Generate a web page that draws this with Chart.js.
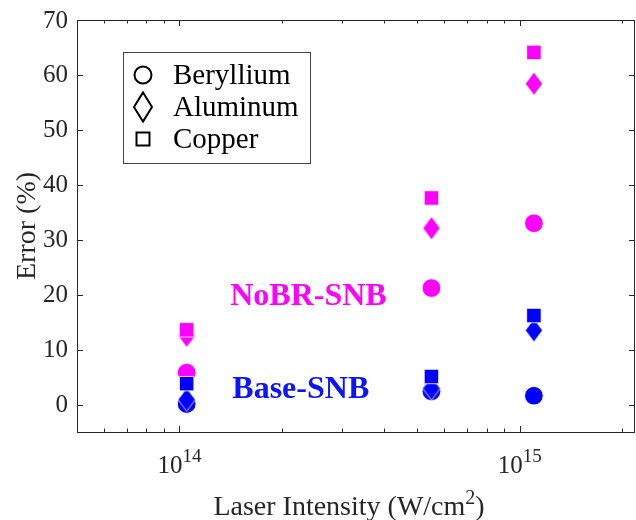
<!DOCTYPE html>
<html>
<head>
<meta charset="utf-8">
<script src="https://cdn.jsdelivr.net/npm/chart.js@4/dist/chart.umd.min.js"></script>
<style>
  html, body { margin: 0; padding: 0; background: #fff; }
  canvas { display: block; }
</style>
</head>
<body>
<canvas id="chart" width="636" height="520"></canvas>
<script>
// Laser intensities (W/cm^2) at which the error was evaluated
const intensities = [1.05e14, 5.5e14, 1.1e15];

// Error (%) without bremsstrahlung correction
const noBrBeryllium = [5.8, 21.2, 33.0];
const noBrAluminum  = [12.5, 32.1, 58.4];
const noBrCopper    = [13.6, 37.6, 64.1];

// Error (%) for the base SNB model
const baseBeryllium = [0.1, 2.4, 1.6];
const baseAluminum  = [0.9, 2.9, 13.5];
const baseCopper    = [3.8, 5.1, 16.2];

const materials = ['Beryllium', 'Aluminum', 'Copper'];
const yTicks = [0, 10, 20, 30, 40, 50, 60, 70];
const xMajorTicks = [1e14, 1e15];
const xMajorLabels = [['10', '14'], ['10', '15']];
const xMinorTicks = [6e13, 7e13, 8e13, 9e13, 2e14, 3e14, 4e14, 5e14, 6e14, 7e14, 8e14, 9e14, 2e15];

const MAGENTA = '#ff00ff';
const BLUE = '#0000ff';
const AXIS = '#262626';
const SERIF = '"Liberation Serif", "Times New Roman", serif';

// Tall diamond marker, drawn once per colour
function diamond(color, hw, hh, stroke, strokeWidth, fill) {
  const c = document.createElement('canvas');
  const pad = 2;
  c.width = Math.ceil(hw * 2 + pad * 2);
  c.height = Math.ceil(hh * 2 + pad * 2);
  const g = c.getContext('2d');
  const cx = c.width / 2, cy = c.height / 2;
  g.beginPath();
  g.moveTo(cx, cy - hh);
  g.lineTo(cx + hw, cy);
  g.lineTo(cx, cy + hh);
  g.lineTo(cx - hw, cy);
  g.closePath();
  if (fill) { g.fillStyle = color; g.fill(); }
  g.lineWidth = strokeWidth;
  g.strokeStyle = stroke;
  g.stroke();
  return c;
}

function pts(ys) {
  return intensities.map((x, i) => ({ x: x, y: ys[i] }));
}

function series(label, ys, color, shape, order) {
  const ds = {
    label: label,
    data: pts(ys),
    order: order,
    backgroundColor: color,
    borderColor: '#ffffff',
    borderWidth: 0.8,
    pointBorderWidth: 0.8,
    showLine: false
  };
  if (shape === 'circle') {
    ds.pointStyle = 'circle';
    ds.pointRadius = 9.3;
  } else if (shape === 'rect') {
    ds.pointStyle = 'rect';
    ds.pointRadius = 10.2;
  } else {
    ds.pointStyle = diamond(color, 8.6, 11.6, '#ffffff', 0.8, true);
    ds.pointRadius = 12;
  }
  ds.pointHoverRadius = ds.pointRadius;
  return ds;
}

// Axis box, inward ticks on all four sides, tick labels and axis titles
const axesPlugin = {
  id: 'matlabAxes',
  beforeDatasetsDraw(chart) {
    const { ctx, chartArea: a, scales: { x, y } } = chart;
    ctx.save();
    ctx.strokeStyle = AXIS;
    ctx.lineWidth = 1;
    ctx.strokeRect(Math.round(a.left) + 0.5, Math.round(a.top) + 0.5,
                   Math.round(a.right - a.left) - 1, Math.round(a.bottom - a.top));
    ctx.beginPath();
    const major = 6, minor = 3.5;
    yTicks.forEach(v => {
      const py = Math.round(y.getPixelForValue(v)) + 0.5;
      ctx.moveTo(a.left, py); ctx.lineTo(a.left + major, py);
      ctx.moveTo(a.right, py); ctx.lineTo(a.right - major, py);
    });
    xMajorTicks.forEach(v => {
      const px = Math.round(x.getPixelForValue(v)) + 0.5;
      ctx.moveTo(px, a.bottom); ctx.lineTo(px, a.bottom - major);
      ctx.moveTo(px, a.top); ctx.lineTo(px, a.top + major);
    });
    xMinorTicks.forEach(v => {
      const px = Math.round(x.getPixelForValue(v)) + 0.5;
      ctx.moveTo(px, a.bottom); ctx.lineTo(px, a.bottom - minor);
      ctx.moveTo(px, a.top); ctx.lineTo(px, a.top + minor);
    });
    ctx.stroke();

    // y tick labels
    ctx.fillStyle = AXIS;
    ctx.font = '25px ' + SERIF;
    ctx.textAlign = 'right';
    ctx.textBaseline = 'middle';
    yTicks.forEach(v => {
      ctx.fillText(String(v), a.left - 9, y.getPixelForValue(v) + 1);
    });

    // x tick labels as powers of ten
    ctx.textAlign = 'left';
    ctx.textBaseline = 'alphabetic';
    xMajorTicks.forEach((v, i) => {
      const [base, exp] = xMajorLabels[i];
      ctx.font = '25px ' + SERIF;
      const wb = ctx.measureText(base).width;
      ctx.font = '19px ' + SERIF;
      const we = ctx.measureText(exp).width;
      const start = x.getPixelForValue(v) - (wb + we) / 2;
      const base0 = a.bottom + 41;
      ctx.font = '25px ' + SERIF;
      ctx.fillText(base, start, base0);
      ctx.font = '19px ' + SERIF;
      ctx.fillText(exp, start + wb, base0 - 11);
    });

    // x title with superscript
    const parts = [['Laser Intensity (W/cm', 28, 0], ['2', 20, -11], [')', 28, 0]];
    let total = 0;
    parts.forEach(p => { ctx.font = p[1] + 'px ' + SERIF; total += ctx.measureText(p[0]).width; });
    let cx = (a.left + a.right) / 2 - 7 - total / 2;
    parts.forEach(p => {
      ctx.font = p[1] + 'px ' + SERIF;
      ctx.fillText(p[0], cx, a.bottom + 83 + p[2]);
      cx += ctx.measureText(p[0]).width;
    });

    // y title
    ctx.save();
    ctx.translate(35, (a.top + a.bottom) / 2);
    ctx.rotate(-Math.PI / 2);
    ctx.textAlign = 'center';
    ctx.font = '28px ' + SERIF;
    ctx.fillText('Error (%)', 0, 0);
    ctx.restore();
    ctx.restore();
  },
  afterDatasetsDraw(chart) {
    const { ctx, chartArea: a, scales: { x, y } } = chart;
    ctx.save();
    // model annotations
    ctx.font = 'bold 32px ' + SERIF;
    ctx.textAlign = 'left';
    ctx.textBaseline = 'alphabetic';
    ctx.fillStyle = MAGENTA;
    ctx.fillText('NoBR-SNB', x.getPixelForValue(1.41e14), y.getPixelForValue(18.1));
    ctx.fillStyle = '#0a14ff';
    ctx.fillText('Base-SNB', x.getPixelForValue(1.43e14), y.getPixelForValue(1.2));

    // material legend
    const lx = a.left + 46, ly = a.top + 32, lw = 187, lh = 111;
    ctx.fillStyle = '#ffffff';
    ctx.fillRect(lx, ly, lw, lh);
    ctx.strokeStyle = '#444444';
    ctx.lineWidth = 1;
    ctx.strokeRect(lx + 0.5, ly + 0.5, lw, lh);
    const mx = lx + 20;
    const rows = [ly + 23, ly + 55, ly + 87];
    ctx.strokeStyle = '#000000';
    ctx.lineWidth = 2;
    // circle
    ctx.beginPath();
    ctx.arc(mx, rows[0], 8.5, 0, Math.PI * 2);
    ctx.stroke();
    // diamond
    ctx.beginPath();
    ctx.moveTo(mx, rows[1] - 14.5);
    ctx.lineTo(mx + 9, rows[1]);
    ctx.lineTo(mx, rows[1] + 14.5);
    ctx.lineTo(mx - 9, rows[1]);
    ctx.closePath();
    ctx.stroke();
    // square
    ctx.strokeRect(mx - 6.5, rows[2] - 6.5, 13, 13);
    ctx.fillStyle = '#000000';
    ctx.font = '29px ' + SERIF;
    ctx.textBaseline = 'middle';
    materials.forEach((m, i) => ctx.fillText(m, lx + 50, rows[i] + 1));
    ctx.restore();
  }
};

new Chart(document.getElementById('chart'), {
  type: 'scatter',
  data: {
    datasets: [
      series('Base-SNB Copper', baseCopper, BLUE, 'rect', 0),
      series('Base-SNB Aluminum', baseAluminum, BLUE, 'diamond', 1),
      series('Base-SNB Beryllium', baseBeryllium, BLUE, 'circle', 2),
      series('NoBR-SNB Copper', noBrCopper, MAGENTA, 'rect', 3),
      series('NoBR-SNB Aluminum', noBrAluminum, MAGENTA, 'diamond', 4),
      series('NoBR-SNB Beryllium', noBrBeryllium, MAGENTA, 'circle', 5)
    ]
  },
  options: {
    responsive: false,
    animation: false,
    devicePixelRatio: 1,
    layout: { autoPadding: false, padding: { left: 77, right: 1, top: 20, bottom: 88 } },
    plugins: { legend: { display: false }, tooltip: { enabled: false } },
    scales: {
      x: { type: 'logarithmic', min: 5e13, max: 2.18e15, display: false },
      y: { type: 'linear', min: -5, max: 70, display: false }
    }
  },
  plugins: [axesPlugin]
});
</script>
</body>
</html>
